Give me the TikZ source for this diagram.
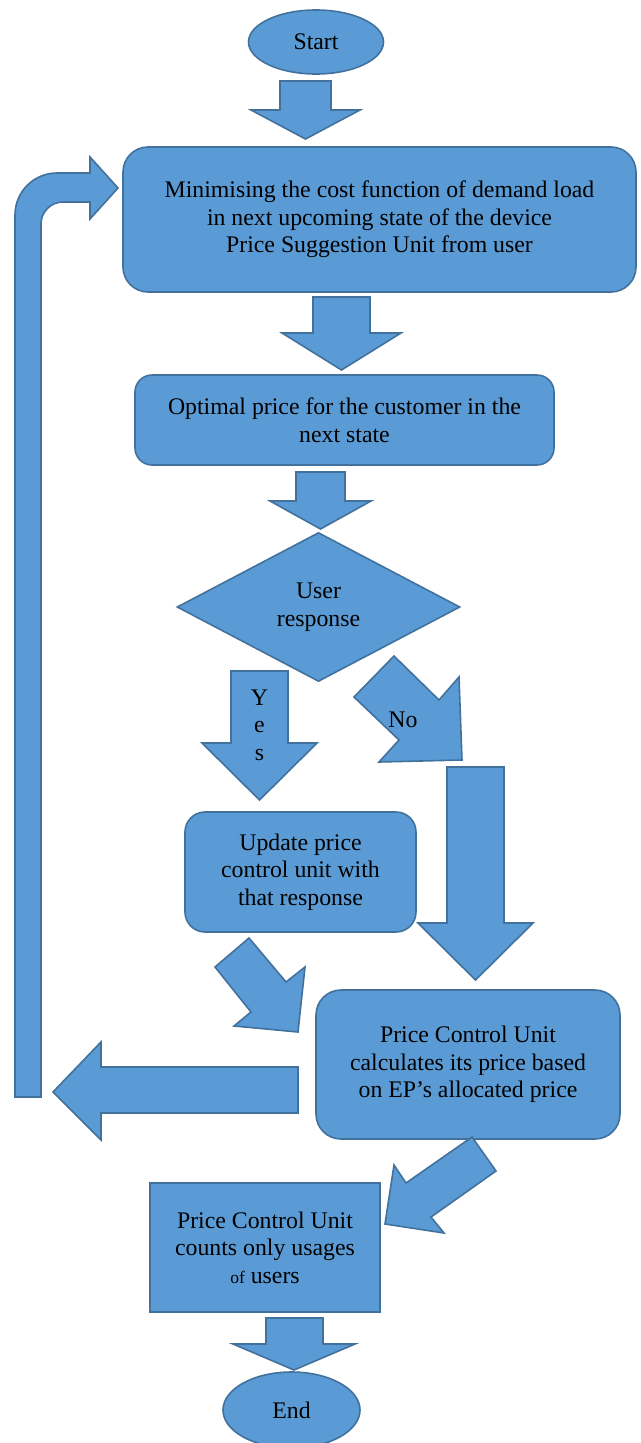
\documentclass[tikz,border=0pt]{standalone}
\usepackage{fontspec}
\setmainfont{Liberation Serif}
\usetikzlibrary{shapes.geometric}
\definecolor{fillb}{HTML}{5B9BD5}
\definecolor{lineb}{HTML}{41719C}
\begin{document}
\begin{tikzpicture}[x=1pt,y=-1pt,
  shapebase/.style={draw=lineb, fill=fillb, line width=1.6pt},
  txt/.style={font=\fontsize{23.8}{27.6}\selectfont, align=center, text=black},
  rbox/.style={shapebase, txt, rectangle, rounded corners=#1, inner sep=0pt},
  oval/.style={shapebase, txt, ellipse, inner sep=0pt},
  barrow/.style={shapebase, line join=miter}]
\useasboundingbox (0,0) rectangle (640,1443);

% nodes
\node[oval, minimum width=135pt, minimum height=64pt] (start) at (316,42) {Start};
\node[rbox=25pt, minimum width=513pt, minimum height=145pt] (minimise) at (379.5,219.5)
  {Minimising the cost function of demand load\\in next upcoming state of the device\\Price Suggestion Unit from user};
\node[rbox=17pt, minimum width=419pt, minimum height=90pt] (optimal) at (344.5,420)
  {Optimal price for the customer in the\\next state};
\node[shapebase, txt, diamond, aspect=2, inner sep=0pt, minimum width=283pt, minimum height=149pt] (user) at (318.5,607)
  {User\\response};
\node[rbox=20pt, minimum width=231pt, minimum height=120pt] (update) at (300.5,872)
  {Update price\\control unit with\\that response};
\node[rbox=25pt, minimum width=304pt, minimum height=149pt] (pcu) at (468,1064.5)
  {Price Control Unit\\calculates its price based\\on EP's allocated price};
\node[rbox=0pt, minimum width=230pt, minimum height=129pt] (count) at (265,1247.5)
  {Price Control Unit\\counts only usages\\{\fontsize{17.5}{20}\selectfont of} users};
\node[oval, minimum width=137pt, minimum height=76pt] (end) at (291.5,1410) {End};

% block arrows
\draw[barrow] (280,81) -- (331,81) -- (331,110) -- (360,110) -- (305.5,139) -- (251,110) -- (280,110) -- cycle;
\draw[barrow] (313,297) -- (370,297) -- (370,333) -- (401,333) -- (341.5,370) -- (282,333) -- (313,333) -- cycle;
\draw[barrow] (296,472) -- (345,472) -- (345,501) -- (371,501) -- (320.5,529) -- (270,501) -- (296,501) -- cycle;
\draw[barrow] (231,671) -- (288,671) -- (288,743) -- (317,743) -- (259.5,800) -- (202,743) -- (231,743) -- cycle;
\node[txt] (yes) at (259.5,725) {Y\\e\\s};
\draw[barrow] (394,656) -- (439,700) -- (459,677) -- (462,760) -- (379,762) -- (399,740) -- (354,697) -- cycle;
\node[txt] (no) at (403,720) {No};
\draw[barrow] (447,767) -- (504,767) -- (504,923) -- (533,923) -- (475.5,980) -- (418,923) -- (447,923) -- cycle;
\draw[barrow] (249,938) -- (286,982) -- (305,967) -- (298,1032) -- (234,1026) -- (251,1012) -- (215,967) -- cycle;
\draw[barrow] (472,1137) -- (496,1171) -- (431,1217) -- (444,1233) -- (385,1224) -- (394,1165) -- (406,1183) -- cycle;
\draw[barrow] (298,1067) -- (298,1113) -- (101,1113) -- (101,1140) -- (53,1092) -- (101,1042) -- (101,1067) -- cycle;
\draw[barrow] (266,1318) -- (323,1318) -- (323,1344) -- (355,1344) -- (294,1370) -- (233,1344) -- (266,1344) -- cycle;

% loop-back bent arrow
\draw[barrow] (15,1097) -- (15,215) .. controls (15,191.8) and (33.8,173) .. (57,173)
  -- (90,173) -- (90,157) -- (118,188) -- (90,219) -- (90,202) -- (63,202)
  .. controls (50.85,202) and (41,211.85) .. (41,224) -- (41,1097) -- cycle;
\end{tikzpicture}
\end{document}
